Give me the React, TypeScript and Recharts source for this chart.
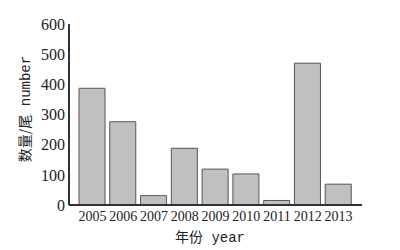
import React from "react";
import { BarChart, Bar, XAxis, YAxis, Label } from "recharts";

const years = ["2005", "2006", "2007", "2008", "2009", "2010", "2011", "2012", "2013"];
const counts = [387, 276, 31, 188, 119, 103, 15, 470, 69];
const yTicks = [0, 100, 200, 300, 400, 500, 600];

const data = years.map((y, i) => ({ year: y, count: counts[i] }));

const serif = "'Liberation Serif', 'DejaVu Serif', serif";
const mono = "'Liberation Mono', 'DejaVu Sans Mono', monospace";
const cjk = "'Noto Sans CJK SC', sans-serif";

export default function App() {
  return (
    <div style={{ position: "absolute", left: 0, top: 0, background: "#fff" }}>
      <BarChart
        width={400}
        height={250}
        data={data}
        margin={{ top: 24, right: 38, left: 0, bottom: 0 }}
        barSize={26}
      >
        <XAxis
          dataKey="year"
          height={45}
          padding={{ left: 8, right: 8 }}
          axisLine={{ stroke: "#333", strokeWidth: 2 }}
          tickLine={false}
          tickSize={4}
          tickMargin={2}
          interval={0}
          tick={{ fill: "#222", fontSize: 14, fontFamily: serif }}
        >
          <Label
            content={() => (
              <text x={210} y={242} textAnchor="middle" fill="#222" fontSize={14}>
                <tspan fontFamily={cjk}>年份</tspan>
                <tspan fontFamily={mono}> year</tspan>
              </text>
            )}
          />
        </XAxis>
        <YAxis
          width={69}
          domain={[0, 600]}
          ticks={yTicks}
          interval={0}
          axisLine={{ stroke: "#333", strokeWidth: 2 }}
          tickLine={false}
          tickSize={2}
          tickMargin={2}
          tick={{ fill: "#222", fontSize: 16, fontFamily: serif }}
        >
          <Label
            content={() => (
              <text
                x={30}
                y={109}
                textAnchor="middle"
                fill="#222"
                fontSize={14}
                transform="rotate(-90, 30, 109)"
              >
                <tspan fontFamily={cjk}>数量/尾</tspan>
                <tspan fontFamily={mono}> number</tspan>
              </text>
            )}
          />
        </YAxis>
        <Bar dataKey="count" fill="#c0c0c0" stroke="#555" strokeWidth={1} isAnimationActive={false} />
      </BarChart>
    </div>
  );
}
